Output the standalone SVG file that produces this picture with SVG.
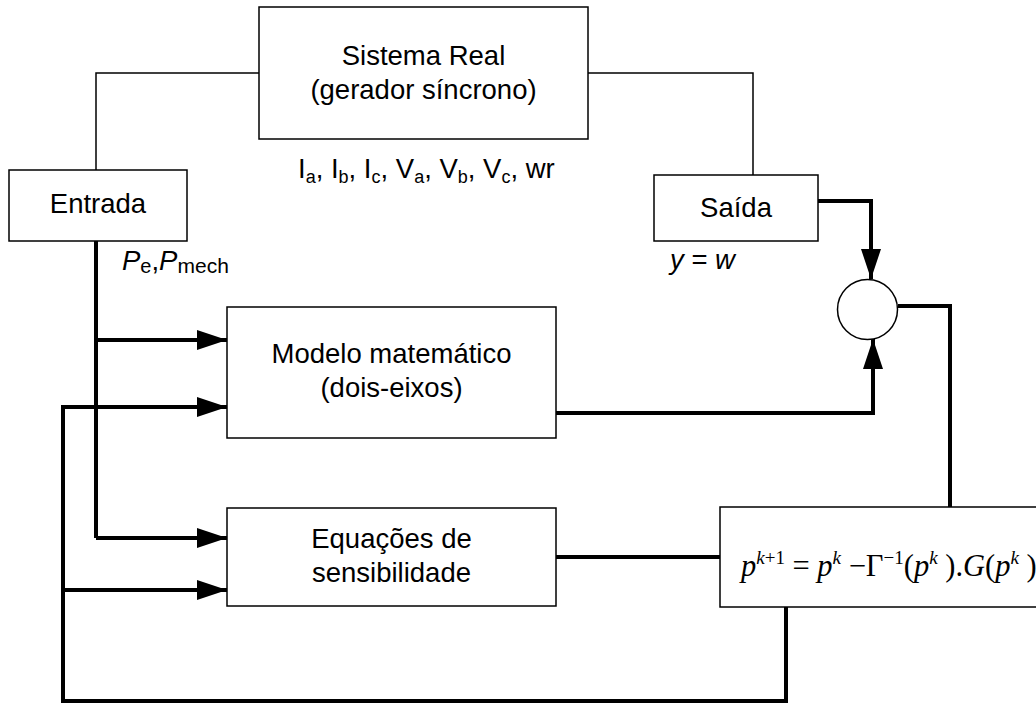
<svg xmlns="http://www.w3.org/2000/svg" width="1036" height="705" viewBox="0 0 1036 705">
  <style>
    .box { fill: #fff; stroke: #000; stroke-width: 1.5; }
    .thin { fill: none; stroke: #000; stroke-width: 1.5; }
    .thick { fill: none; stroke: #000; stroke-width: 4; stroke-linejoin: miter; }
    .lbl { font-family: "Liberation Sans", Arial, sans-serif; font-size: 27.5px; fill: #000; text-anchor: middle; }
    .note { font-family: "Liberation Sans", Arial, sans-serif; font-size: 27.5px; fill: #000; }
    .sub { font-size: 18px; }
    .eq { font-family: "Liberation Serif", "Times New Roman", serif; font-size: 30.5px; fill: #000; }
    .sup { font-size: 19px; }
    .it { font-style: italic; }
  </style>
  <defs>
    <marker id="arrow" viewBox="0 0 30 20" refX="30" refY="10" markerWidth="30" markerHeight="20" markerUnits="userSpaceOnUse" orient="auto">
      <path d="M0,0 L30,10 L0,20 Z" fill="#000"/>
    </marker>
  </defs>

  <!-- connectors -->
  <g id="connectors">
    <!-- thin links from the real system -->
    <polyline class="thin" points="259,73 96,73 96,170"/>
    <polyline class="thin" points="588,73 753,73 753,175"/>
    <!-- input bus -->
    <polyline class="thick" points="96,241 96,538"/>
    <polyline class="thick" points="96,340 227,340" marker-end="url(#arrow)"/>
    <polyline class="thick" points="96,538 227,538" marker-end="url(#arrow)"/>
    <!-- parameter feedback -->
    <polyline class="thick" points="786,607 786,701 63,701 63,407 227,407" marker-end="url(#arrow)"/>
    <polyline class="thick" points="63,590 227,590" marker-end="url(#arrow)"/>
    <!-- outputs to comparator -->
    <polyline class="thick" points="818,201 871,201 871,279" marker-end="url(#arrow)"/>
    <polyline class="thick" points="556,413 873,413 873,339" marker-end="url(#arrow)"/>
    <polyline class="thick" points="898,306 950,306 950,507"/>
    <polyline class="thick" points="556,557 720,557"/>
  </g>

  <!-- nodes -->
  <g id="sistema-real">
    <rect class="box" x="259" y="7" width="329" height="132"/>
    <text class="lbl" x="423.5" y="65">Sistema Real</text>
    <text class="lbl" x="423.5" y="99">(gerador síncrono)</text>
    <text class="note" x="298" y="178">I<tspan class="sub" dy="5">a</tspan><tspan dy="-5">, I</tspan><tspan class="sub" dy="5">b</tspan><tspan dy="-5">, I</tspan><tspan class="sub" dy="5">c</tspan><tspan dy="-5">, V</tspan><tspan class="sub" dy="5">a</tspan><tspan dy="-5">, V</tspan><tspan class="sub" dy="5">b</tspan><tspan dy="-5">, V</tspan><tspan class="sub" dy="5">c</tspan><tspan dy="-5">, wr</tspan></text>
  </g>

  <g id="entrada">
    <rect class="box" x="9" y="170" width="178" height="71"/>
    <text class="lbl" x="98" y="213">Entrada</text>
    <text class="note" x="122" y="270"><tspan class="it">P</tspan><tspan font-size="20" dy="3">e</tspan><tspan dy="-3">,</tspan><tspan class="it">P</tspan><tspan font-size="21" dy="3">mech</tspan></text>
  </g>

  <g id="saida">
    <rect class="box" x="654" y="175" width="164" height="66"/>
    <text class="lbl" x="736" y="217">Saída</text>
    <text class="note" x="670" y="269"><tspan class="it">y</tspan> = <tspan class="it">w</tspan></text>
  </g>

  <g id="comparador">
    <circle class="box" cx="867.5" cy="309.5" r="30"/>
  </g>

  <g id="modelo">
    <rect class="box" x="227" y="307" width="329" height="131"/>
    <text class="lbl" x="391.5" y="363">Modelo matemático</text>
    <text class="lbl" x="391.5" y="397">(dois-eixos)</text>
  </g>

  <g id="sensibilidade">
    <rect class="box" x="227" y="508" width="329" height="98"/>
    <text class="lbl" x="391.5" y="548">Equações de</text>
    <text class="lbl" x="391.5" y="582">sensibilidade</text>
  </g>

  <g id="atualizacao">
    <rect class="box" x="720" y="507" width="318" height="100"/>
    <text class="eq" x="741" y="576"><tspan class="it">p</tspan><tspan class="sup" dy="-12"><tspan class="it">k</tspan>+1</tspan><tspan dy="12"> = </tspan><tspan class="it">p</tspan><tspan class="sup it" dy="-12">k</tspan><tspan dy="12"> −Γ</tspan><tspan class="sup" dy="-12">−1</tspan><tspan dy="12">(</tspan><tspan class="it">p</tspan><tspan class="sup it" dy="-12">k</tspan><tspan dy="12"> ).</tspan><tspan class="it">G</tspan>(<tspan class="it">p</tspan><tspan class="sup it" dy="-12">k</tspan><tspan dy="12"> )</tspan></text>
  </g>
</svg>
